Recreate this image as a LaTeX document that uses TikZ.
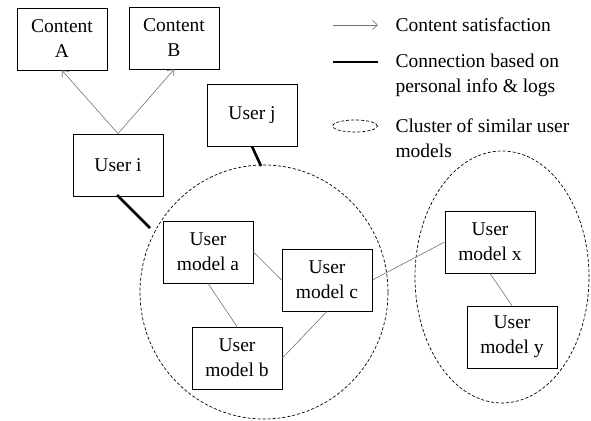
\documentclass[tikz,border=0pt]{standalone}
\usepackage{fontspec}
\setmainfont{Liberation Serif}
\usetikzlibrary{shapes.geometric,arrows.meta}

\begin{document}
\begin{tikzpicture}[x=1pt,y=-1pt,
	box/.style={draw,line width=0.8pt,minimum width=90pt,minimum height=62pt,inner sep=0pt,align=center},
	sat/.style={-{Straight Barb[length=5pt,width=9pt]},draw=black!55,line width=0.6pt},
	link/.style={draw=black!55,line width=0.6pt},
	conn/.style={line width=2.6pt},
	cluster/.style={draw,ellipse,line width=0.7pt,dash pattern=on 3pt off 2pt,inner sep=0pt},
	every node/.style={font=\fontsize{19.5}{25}\selectfont}]
	\useasboundingbox (0,0) rectangle (591,420);
	% clusters
	\node[cluster,minimum width=248pt,minimum height=254pt] (clusA) at (264,292) {};
	\node[cluster,minimum width=174pt,minimum height=252pt] (clusB) at (502,277) {};
	% boxes
	\node[box] (contA) at (62,39) {Content\\A};
	\node[box] (contB) at (174,38) {Content\\B};
	\node[box] (useri) at (118,165) {User i};
	\node[box] (userj) at (252,115) {User j};
	\node[box] (moda) at (208,252) {User\\model a};
	\node[box] (modc) at (327,280) {User\\model c};
	\node[box] (modb) at (237,358) {User\\model b};
	\node[box] (modx) at (490,242) {User\\model x};
	\node[box] (mody) at (512,337) {User\\model y};
	% connections
	\draw[sat] (useri.north) -- (contA.south);
	\draw[sat] (useri.north) -- (contB.south);
	\coordinate (ci) at (150,228);
	\coordinate (cj) at (261,166);
	\draw[conn] (117,195) -- (ci);
	\draw[conn] (userj.south) -- (cj);
	\draw[link] (moda.east) -- (modc.west);
	\draw[link] (moda.south) -- (modb.north);
	\draw[link] (modc.south) -- (modb.east);
	\draw[link] (modc.east) -- (modx.west);
	\draw[link] (modx.south) -- (mody.north);
	% legend
	\draw[sat] (333,25) -- (378,25);
	\node[anchor=west] (legsat) at (392,25) {Content satisfaction};
	\draw[conn] (333,62) -- (378,62);
	\node[anchor=west,align=left] (legconn) at (392,75) {Connection based on\\personal info \& logs};
	\node[cluster,minimum width=45pt,minimum height=12pt] (legclus) at (355,126) {};
	\node[anchor=west,align=left] (legtxt) at (392,138) {Cluster of similar user\\models};
\end{tikzpicture}
\end{document}
